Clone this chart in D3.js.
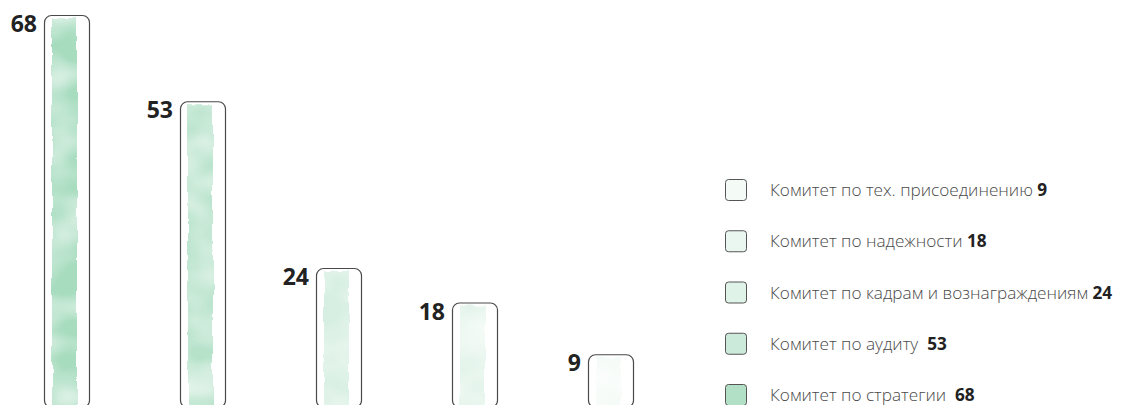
<!DOCTYPE html>
<html>
<head>
<meta charset="utf-8">
<script src="https://cdn.jsdelivr.net/npm/d3@7"></script>
<style>
html,body{margin:0;padding:0;background:#fff;}
svg{display:block;}
text{white-space:pre;}
</style>
</head>
<body>
<svg id="chart" width="1123" height="405"></svg>
<script>
// Data
const categories = ["Комитет по стратегии", "Комитет по аудиту", "Комитет по кадрам и вознаграждениям", "Комитет по надежности", "Комитет по тех. присоединению"];
const values = [68, 53, 24, 18, 9];
const legendLabels = ["Комитет по тех. присоединению ", "Комитет по надежности ", "Комитет по кадрам и вознаграждениям ", "Комитет по аудиту  ", "Комитет по стратегии  "];
const legendValues = [9, 18, 24, 53, 68];
const fillOpacity = [0.85, 0.7, 0.38, 0.26, 0.1];
const legendOpacity = [0.1, 0.2, 0.3, 0.5, 0.75];

const svg = d3.select("#chart");
const green = "#98d6b4";

const defs = svg.append("defs");
const f = defs.append("filter").attr("id","wc").attr("x","-20%").attr("y","-5%").attr("width","140%").attr("height","110%");
f.append("feTurbulence").attr("type","fractalNoise").attr("baseFrequency","0.12 0.04").attr("numOctaves",3).attr("seed",4).attr("result","noise");
f.append("feDisplacementMap").attr("in","SourceGraphic").attr("in2","noise").attr("scale",5).attr("xChannelSelector","R").attr("yChannelSelector","G").attr("result","disp");
f.append("feGaussianBlur").attr("in","disp").attr("stdDeviation",0.7).attr("result","soft");
f.append("feTurbulence").attr("type","fractalNoise").attr("baseFrequency","0.02 0.03").attr("numOctaves",2).attr("seed",11).attr("result","n2");
f.append("feColorMatrix").attr("in","n2").attr("type","matrix")
  .attr("values","0 0 0 0 0  0 0 0 0 0  0 0 0 0 0  1.2 0 0 0 0.15").attr("result","mask");
f.append("feComposite").attr("in","soft").attr("in2","mask").attr("operator","in");

const xb = d3.scalePoint().domain(categories).range([44, 44 + 136*4]);
const bw = 45;
const y = d3.scaleLinear().domain([0, 68]).range([406, 15]);

const g = svg.append("g");
const bars = g.selectAll("g.bar").data(categories.map((c,i)=>({c, v: values[i], i}))).join("g").attr("class","bar");

bars.append("rect")
  .attr("x", d => xb(d.c) + 8)
  .attr("y", d => y(d.v) + 3)
  .attr("width", bw - 20)
  .attr("height", d => y(0) - y(d.v) - 3)
  .attr("fill", green)
  .attr("opacity", d => fillOpacity[d.i])
  .attr("filter","url(#wc)");

bars.append("rect")
  .attr("x", d => xb(d.c) + 0.5)
  .attr("y", d => y(d.v) + 0.5)
  .attr("width", bw)
  .attr("height", d => y(0) - y(d.v) + 1)
  .attr("rx", 7).attr("ry", 7)
  .attr("fill","none")
  .attr("stroke","#4a4a4a")
  .attr("stroke-width",1.2);

bars.append("text")
  .attr("x", d => xb(d.c) - 7)
  .attr("y", d => y(d.v) + 17)
  .attr("text-anchor","end")
  .attr("font-family","'Open Sans', sans-serif")
  .attr("font-weight",700)
  .attr("font-size",23)
  .attr("fill","#222")
  .text(d => d.v);

// Legend
const ly = d3.scalePoint().domain(d3.range(5)).range([190, 395]);
const lg = svg.append("g");
const rows = lg.selectAll("g").data(d3.range(5)).join("g")
  .attr("transform", i => `translate(0,${ly(i)})`);
rows.append("rect").attr("x",725.5).attr("y",-10.5).attr("width",21).attr("height",21).attr("rx",3)
  .attr("fill", "#fff").attr("stroke","none");
rows.append("rect").attr("x",725.5).attr("y",-10.5).attr("width",21).attr("height",21).attr("rx",3)
  .attr("fill", green).attr("fill-opacity", i => legendOpacity[i])
  .attr("stroke","#555").attr("stroke-width",1);
const t = rows.append("text").attr("x",770).attr("y",6)
  .attr("xml:space","preserve")
  .attr("font-family","'Open Sans', sans-serif").attr("font-size",17.2).attr("fill","#4a4a4a");
t.append("tspan").attr("font-weight",300).text(i => legendLabels[i]);
t.append("tspan").attr("font-weight",700).attr("fill","#222").text(i => legendValues[i]);
</script>
</body>
</html>
